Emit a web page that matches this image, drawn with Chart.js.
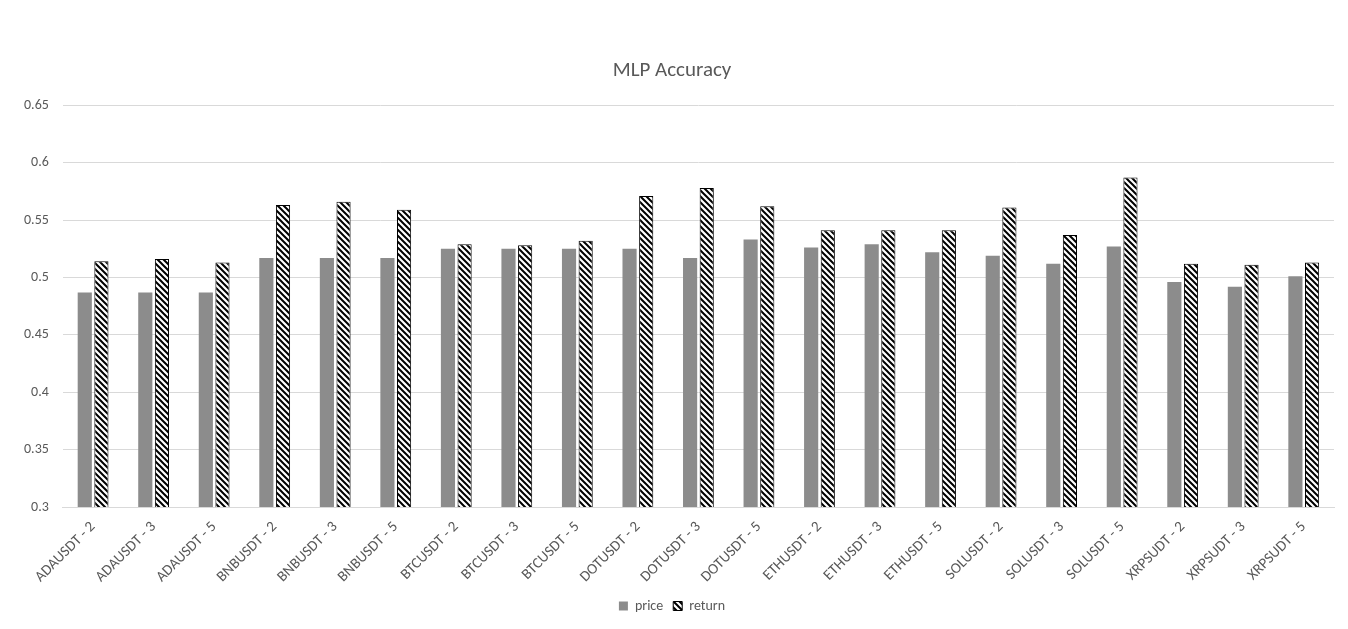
<!DOCTYPE html>
<html><head><meta charset="utf-8">
<script src="https://cdn.jsdelivr.net/npm/chart.js@4"></script>
<style>body{margin:0;background:#fff}#w{width:1348px;height:629px}</style>
</head><body><div id="w"><canvas id="c"></canvas></div>
<script>
const labels = ['ADAUSDT - 2','ADAUSDT - 3','ADAUSDT - 5','BNBUSDT - 2','BNBUSDT - 3','BNBUSDT - 5','BTCUSDT - 2','BTCUSDT - 3','BTCUSDT - 5','DOTUSDT - 2','DOTUSDT - 3','DOTUSDT - 5','ETHUSDT - 2','ETHUSDT - 3','ETHUSDT - 5','SOLUSDT - 2','SOLUSDT - 3','SOLUSDT - 5','XRPSUDT - 2','XRPSUDT - 3','XRPSUDT - 5'];
const price = [0.487,0.487,0.487,0.517,0.517,0.517,0.525,0.525,0.525,0.525,0.517,0.533,0.526,0.529,0.522,0.519,0.512,0.527,0.496,0.492,0.501];
const ret = [0.514,0.516,0.513,0.563,0.566,0.559,0.529,0.528,0.532,0.571,0.578,0.562,0.541,0.541,0.541,0.561,0.537,0.587,0.512,0.511,0.513];

function hatch() {
  const p = document.createElement('canvas');
  p.width = 6; p.height = 6;
  const g = p.getContext('2d');
  g.fillStyle = '#fff'; g.fillRect(0, 0, 6, 6);
  g.strokeStyle = '#000'; g.lineWidth = 2;
  g.beginPath();
  g.moveTo(-1, -1); g.lineTo(7, 7);
  g.moveTo(5, -1); g.lineTo(7, 1);
  g.moveTo(-1, 5); g.lineTo(1, 7);
  g.stroke();
  return g.createPattern(p, 'repeat');
}

Chart.defaults.font.family = 'Calibri, "Liberation Sans", Arial, sans-serif';
Chart.defaults.color = '#595959';
new Chart(document.getElementById('c'), {
  type: 'bar',
  data: {
    labels: labels,
    datasets: [
      {label: 'price', data: price, backgroundColor: '#8c8c8c', borderWidth: 0},
      {label: 'return', data: ret, backgroundColor: hatch(), borderColor: '#000', borderWidth: 1}
    ]
  },
  options: {
    responsive: true, maintainAspectRatio: false, animation: false,
    layout: {padding: {left: 10, right: 14, top: 58, bottom: 6}},
    categoryPercentage: 0.55, barPercentage: 0.85,
    plugins: {
      title: {display: true, text: 'MLP Accuracy', color: '#595959', font: {size: 21, weight: 'normal'}, padding: {bottom: 22}},
      legend: {position: 'bottom', labels: {boxWidth: 9, boxHeight: 9, font: {size: 14}, padding: 10}},
      tooltip: {enabled: false}
    },
    scales: {
      y: {min: 0.3, max: 0.65, ticks: {stepSize: 0.05, font: {size: 14}, padding: 14, callback: v => +v.toFixed(2)},
          grid: {color: '#d9d9d9', drawTicks: false}, border: {display: false}},
      x: {grid: {display: false}, border: {color: '#d9d9d9'},
          ticks: {maxRotation: 45, minRotation: 45, font: {size: 15}}}
    }
  }
});
</script></body></html>
